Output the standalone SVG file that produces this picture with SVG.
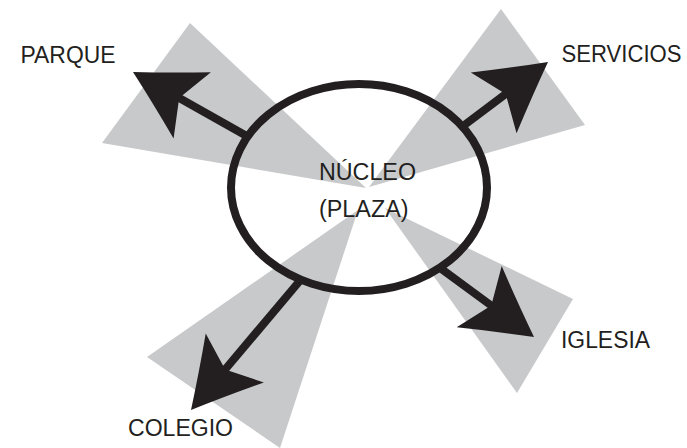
<svg xmlns="http://www.w3.org/2000/svg" width="687" height="448" viewBox="0 0 687 448">
  <style>
    .wedge { fill: #c8c9cb; stroke: none; }
    .shaft { stroke: #231f20; stroke-width: 8; fill: none; }
    .head { fill: #231f20; stroke: none; }
    .label { font-family: "Liberation Sans", Arial, sans-serif; font-size: 23px; fill: #231f20; }
  </style>
  <defs>
    <!-- arrowhead pointing along +x, tip at origin, gently concave sides -->
    <path id="arrowhead" d="M0,0 Q-32,-17 -68,-38 L-53,0 L-68,38 Q-32,17 0,0 Z"/>
  </defs>

  <!-- shaded sectors radiating from the plaza -->
  <g id="sectors">
    <polygon class="wedge" points="190,23 102,143 366,188"/>
    <polygon class="wedge" points="501,9 585,125 369,187"/>
    <polygon class="wedge" points="147,357 280,448 358,210"/>
    <polygon class="wedge" points="573,299 517,393 385,208"/>
  </g>

  <!-- connectors from the core outwards -->
  <g id="connectors">
    <g transform="translate(133,72) rotate(209.4)">
      <line class="shaft" x1="-131" y1="0" x2="-50" y2="0"/>
      <use href="#arrowhead" class="head"/>
    </g>
    <g transform="translate(548,62) rotate(-37)">
      <line class="shaft" x1="-104" y1="0" x2="-50" y2="0"/>
      <use href="#arrowhead" class="head"/>
    </g>
    <g transform="translate(191,410) rotate(130.1)">
      <line class="shaft" x1="-169" y1="0" x2="-50" y2="0"/>
      <use href="#arrowhead" class="head"/>
    </g>
    <g transform="translate(534,337) rotate(36.3)">
      <line class="shaft" x1="-119" y1="0" x2="-50" y2="0"/>
      <use href="#arrowhead" class="head"/>
    </g>
  </g>

  <g id="nucleo">
    <ellipse cx="359" cy="187.5" rx="128" ry="103.5" fill="none" stroke="#231f20" stroke-width="8"/>
    <text class="label" x="319" y="179.5" textLength="97" lengthAdjust="spacingAndGlyphs">NÚCLEO</text>
    <text class="label" x="319" y="217" textLength="89.5" lengthAdjust="spacingAndGlyphs">(PLAZA)</text>
  </g>

  <g id="parque">
    <text class="label" x="20.5" y="62.5" textLength="95" lengthAdjust="spacingAndGlyphs">PARQUE</text>
  </g>
  <g id="servicios">
    <text class="label" x="561.5" y="62" textLength="120" lengthAdjust="spacingAndGlyphs">SERVICIOS</text>
  </g>
  <g id="colegio">
    <text class="label" x="128" y="436" textLength="105" lengthAdjust="spacingAndGlyphs">COLEGIO</text>
  </g>
  <g id="iglesia">
    <text class="label" x="561" y="347.5" textLength="89" lengthAdjust="spacingAndGlyphs">IGLESIA</text>
  </g>
</svg>
